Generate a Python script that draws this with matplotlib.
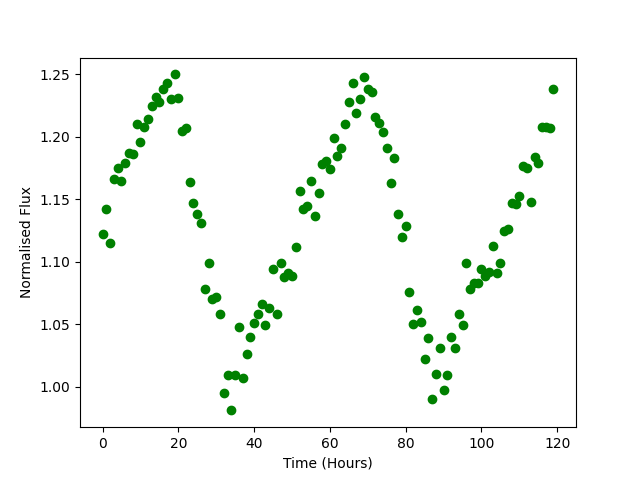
import numpy as np
import matplotlib
matplotlib.use("Agg")
import matplotlib.pyplot as plt

# hourly samples, values
hours = np.arange(120)
flux = [
    1.122, 1.142, 1.115, 1.166, 1.175, 1.165, 1.179, 1.187, 1.186, 1.210,
    1.196, 1.208, 1.214, 1.225, 1.232, 1.228, 1.238, 1.243, 1.230, 1.250,
    1.231, 1.205, 1.207, 1.164, 1.147, 1.138, 1.131, 1.078, 1.099, 1.070,
    1.072, 1.058, 0.995, 1.009, 0.981, 1.009, 1.048, 1.007, 1.026, 1.040,
    1.051, 1.058, 1.066, 1.049, 1.063, 1.094, 1.058, 1.099, 1.088, 1.091,
    1.089, 1.112, 1.157, 1.142, 1.145, 1.165, 1.137, 1.155, 1.178, 1.181,
    1.174, 1.199, 1.185, 1.191, 1.210, 1.228, 1.243, 1.219, 1.230, 1.248,
    1.238, 1.236, 1.216, 1.211, 1.204, 1.191, 1.163, 1.183, 1.138, 1.120,
    1.129, 1.076, 1.050, 1.061, 1.052, 1.022, 1.039, 0.990, 1.010, 1.031,
    0.997, 1.009, 1.040, 1.031, 1.058, 1.049, 1.099, 1.078, 1.083, 1.083,
    1.094, 1.089, 1.092, 1.113, 1.091, 1.099, 1.125, 1.126, 1.147, 1.146,
    1.153, 1.177, 1.175, 1.148, 1.184, 1.179, 1.208, 1.208, 1.207, 1.238,
]

fig, ax = plt.subplots(figsize=(6.4, 4.8), dpi=100)
ax.plot(hours, flux, "o", color="green")
ax.set_xlabel("Time (Hours)")
ax.set_ylabel("Normalised Flux")

fig.savefig("out.png")
